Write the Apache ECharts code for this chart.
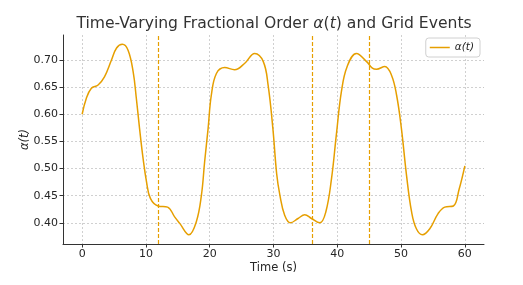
<!DOCTYPE html>
<html>
<head>
<meta charset="utf-8">
<script src="https://cdn.jsdelivr.net/npm/echarts@6/dist/echarts.min.js"></script>
<style>html,body{margin:0;padding:0;background:#fff;}#c{width:523px;height:285px;}</style>
</head>
<body>
<div id="c"></div>
<script>
const times = [0,0.65,1.45,2.5,3.5,4.6,5.4,6.3,7.2,8.0,8.5,9.0,9.55,10.1,10.7,11.9,13.4,14.5,15.3,16.75,17.9,18.7,19.2,19.75,20.25,21.05,22.35,23.9,25.5,27.05,28.4,29.15,29.9,30.5,31.0,31.75,32.65,33.85,34.9,35.95,37.25,38.2,39.1,39.85,40.65,41.55,43.0,44.6,45.5,46.15,47.45,48.5,49.3,50.05,50.85,51.65,52.4,53.35,54.5,55.8,56.85,58.2,59.1,60];
const alphaValues = [0.600,0.629,0.648,0.654,0.669,0.700,0.722,0.729,0.718,0.678,0.629,0.574,0.519,0.475,0.445,0.431,0.429,0.411,0.399,0.378,0.402,0.451,0.512,0.574,0.635,0.675,0.686,0.682,0.694,0.712,0.697,0.654,0.574,0.490,0.451,0.414,0.400,0.408,0.415,0.408,0.400,0.420,0.482,0.562,0.642,0.688,0.712,0.697,0.685,0.683,0.688,0.672,0.635,0.574,0.488,0.420,0.389,0.378,0.389,0.417,0.429,0.431,0.462,0.505];
const eventTimes = [12, 36, 45];
const xTicks = [0,10,20,30,40,50,60];
const yTicks = [0.40,0.45,0.50,0.55,0.60,0.65,0.70];

const FONT = 'DejaVu Sans';
const ORANGE = '#e69f00';
const TXT = '#262626';
const chart = echarts.init(document.getElementById('c'), null, {renderer:'canvas'});
chart.setOption({
  animation: false,
  backgroundColor: '#fff',
  title: {
    text: 'Time-Varying Fractional Order {i|α}({i|t}) and Grid Events',
    left: 269, top: 11, textAlign: 'center',
    textStyle: {
      fontFamily: FONT, fontSize: 15.6, fontWeight: 'normal', color: '#333',
      rich: { i: { fontFamily: FONT, fontSize: 15.6, fontStyle: 'italic', color: '#333' } }
    }
  },
  legend: {
    right: 43, top: 38, orient: 'vertical',
    itemWidth: 20, itemHeight: 10, itemGap: 4,
    padding: [4, 6, 4, 4],
    borderColor: '#d0d0d0', borderWidth: 1, borderRadius: 3,
    backgroundColor: 'rgba(255,255,255,0.8)',
    textStyle: { fontFamily: FONT, fontSize: 10.5, fontStyle: 'italic', color: TXT },
    data: [{ name: 'α(t)', icon: 'path://M0,0 L20,0 L20,1.5 L0,1.5 Z' }]
  },
  grid: { left: 63, right: 39, top: 35, bottom: 41 },
  xAxis: {
    type: 'value', min: -3, max: 63,
    name: 'Time (s)', nameLocation: 'middle', nameGap: 18, nameMoveOverlap: false,
    nameTextStyle: { fontFamily: FONT, fontSize: 11.5, color: TXT },
    axisLine: { show: true, onZero: false, lineStyle: { color: '#333', width: 1 } },
    axisTick: { show: true, length: 3.5, customValues: xTicks, lineStyle: { color: '#333' } },
    axisLabel: { customValues: xTicks, fontFamily: FONT, fontSize: 11, color: TXT, margin: 5 },
    splitLine: { show: true, lineStyle: { color: '#c4c4c4', type: [2, 2], width: 0.8 } }
  },
  yAxis: {
    type: 'value', min: 0.361, max: 0.746,
    name: 'α(t)', nameLocation: 'middle', nameGap: 32, nameRotate: 90, nameMoveOverlap: false,
    nameTextStyle: { fontFamily: FONT, fontSize: 11.5, fontStyle: 'italic', color: TXT },
    axisLine: { show: true, onZero: false, lineStyle: { color: '#333', width: 1 } },
    axisTick: { show: true, length: 3.5, customValues: yTicks, lineStyle: { color: '#333' } },
    axisLabel: { customValues: yTicks, fontFamily: FONT, fontSize: 11, color: TXT, margin: 5,
      formatter: v => v.toFixed(2) },
    splitLine: { show: true, lineStyle: { color: '#c4c4c4', type: [2, 2], width: 0.8 } }
  },
  series: [{
    name: 'α(t)', type: 'line', smooth: 0.4, symbol: 'none',
    data: times.map((t, i) => [t, alphaValues[i]]),
    lineStyle: { color: ORANGE, width: 1.5 },
    itemStyle: { color: ORANGE },
    markLine: {
      silent: true, symbol: 'none', label: { show: false },
      emphasis: { disabled: true },
      lineStyle: { color: ORANGE, type: [4, 2], width: 1.2, opacity: 1 },
      data: eventTimes.map(t => ({ xAxis: t }))
    }
  }]
});
</script>
</body>
</html>
